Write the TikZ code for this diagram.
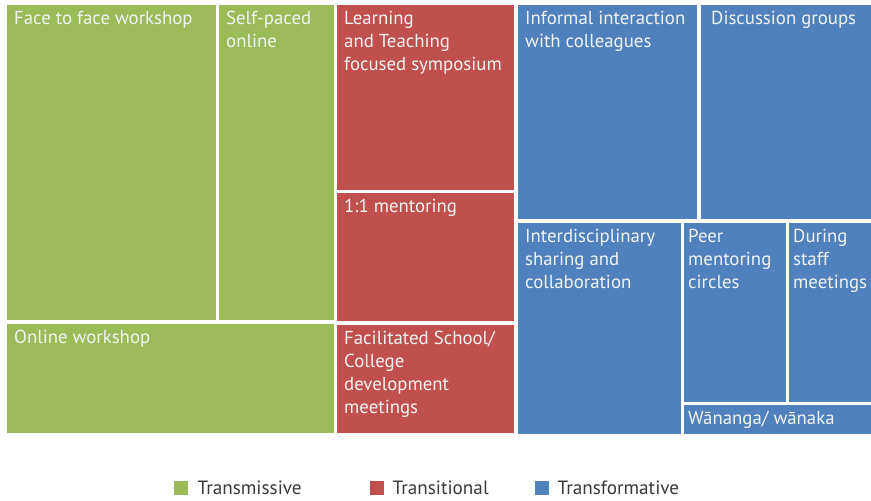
\documentclass[tikz,border=0pt]{standalone}
\usepackage{fontspec}
\setmainfont{PT Sans}
\definecolor{cgreen}{HTML}{9BBB59}
\definecolor{cred}{HTML}{C0504D}
\definecolor{cblue}{HTML}{4F81BD}
\definecolor{ctext}{HTML}{F2F2F2}
\definecolor{clegend}{HTML}{3A3A3A}
\newcommand{\tmbox}[8][]{%
  \fill[#7] (#3,#4) rectangle (#5,#6);
  \node[lbl,#1] (#2) at (#3,#4) {#8};}
\begin{document}
\begin{tikzpicture}[x=1pt,y=-1pt,
  lbl/.style={anchor=north west,inner sep=0pt,xshift=7pt,yshift=-6pt,align=left,
    text=ctext,font=\fontsize{18.8}{23}\selectfont},
  legsq/.style={minimum size=14pt,inner sep=0pt,anchor=north west},
  legtx/.style={anchor=west,inner sep=0pt,text=clegend,font=\fontsize{19.2}{22}\selectfont}]
\useasboundingbox (0,0) rectangle (871,501);
\fill[white] (0,0) rectangle (871,501);
% green
\tmbox{f2f}{7}{5}{216}{320}{cgreen}{Face to face workshop}
\tmbox{self}{219}{5}{334}{320}{cgreen}{Self-paced\\online}
\tmbox{onl}{7}{324}{334}{433}{cgreen}{Online workshop}
% red
\tmbox{ltf}{337}{5}{514}{190}{cred}{Learning\\and Teaching\\focused symposium}
\tmbox{ment}{337}{193}{514}{321}{cred}{1:1 mentoring}
\tmbox{fac}{337}{325}{514}{433}{cred}{Facilitated School/\\College\\development\\meetings}
% blue
\tmbox{inf}{518}{5}{697}{219}{cblue}{Informal interaction\\with colleagues}
\tmbox[xshift=3pt]{disc}{701}{5}{871}{219}{cblue}{Discussion groups}
\tmbox{inter}{518}{223}{681}{434}{cblue}{Interdisciplinary\\sharing and\\collaboration}
\tmbox[xshift=-3pt]{peer}{684}{223}{786}{402}{cblue}{Peer\\mentoring\\circles}
\tmbox[xshift=-3pt]{staff}{789}{223}{871}{402}{cblue}{During\\staff\\meetings}
\tmbox[xshift=-3pt]{wan}{684}{405}{871}{434}{cblue}{Wānanga/ wānaka}
% legend
\node[legsq,fill=cgreen] (lg) at (174,481) {};
\node[legtx] (lgt) at ([xshift=9pt]lg.east) {Transmissive};
\node[legsq,fill=cred] (lr) at (370,481) {};
\node[legtx] (lrt) at ([xshift=8pt]lr.east) {Transitional};
\node[legsq,fill=cblue] (lb) at (535,481) {};
\node[legtx] (lbt) at ([xshift=8pt]lb.east) {Transformative};
\end{tikzpicture}
\end{document}
